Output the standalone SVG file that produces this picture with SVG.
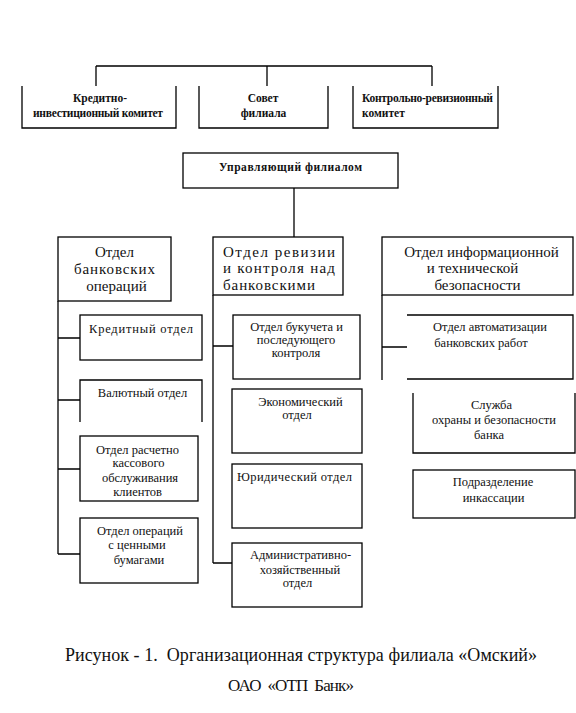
<svg xmlns="http://www.w3.org/2000/svg" width="576" height="713" viewBox="0 0 576 713" font-family="'Liberation Serif', 'DejaVu Serif', serif">
<style>
.b{fill:none;stroke:#000;stroke-width:1.3}
.c{fill:none;stroke:#000;stroke-width:1.3}
text{font-family:"Liberation Serif","DejaVu Serif",serif;fill:#111}
.t1{font-size:11.5px;font-weight:bold}
.t2{font-size:15px}
.t3{font-size:12.5px}
.cap{font-size:18px}
.cap2{font-size:17px}
.m{text-anchor:middle}
</style>
<rect width="576" height="713" fill="#fff"/>
<g id="connectors">
<path class="c" d="M96,66H432M96,66V86M267,66V86M432,66V86"/>
<path class="c" d="M294,188V237"/>
<path class="c" d="M58,301V554M58,338H80M58,400H80M58,469H80M58,554H80"/>
<path class="c" d="M213,295V563M213,346H233M213,563H232"/>
<path class="c" d="M382,295V380M382,347H407"/>
</g>
<g id="n-credit-committee">
<path class="b" d="M22,86V128H176V86"/>
<text class="t1 m" x="100" y="102">Кредитно-</text>
<text class="t1 m" x="98" y="117" textLength="130" lengthAdjust="spacing">инвестиционный комитет</text>
</g>
<g id="n-council">
<path class="b" d="M199,86V128H328V86"/>
<text class="t1 m" x="263" y="102">Совет</text>
<text class="t1 m" x="263.5" y="117">филиала</text>
</g>
<g id="n-audit-committee">
<path class="b" d="M353,86V128H498V86"/>
<text class="t1" x="362" y="102" textLength="131" lengthAdjust="spacing">Контрольно-ревизионный</text>
<text class="t1" x="362" y="117">комитет</text>
</g>
<g id="n-manager">
<rect class="b" x="183" y="153" width="215" height="35"/>
<text class="t1 m" x="290.5" y="171" textLength="143" lengthAdjust="spacing">Управляющий филиалом</text>
</g>
<g id="n-bank-ops">
<rect class="b" x="58" y="237" width="113" height="64"/>
<text class="t2 m" x="114.5" y="257">Отдел</text>
<text class="t2 m" x="114.5" y="274" textLength="81" lengthAdjust="spacing">банковских</text>
<text class="t2 m" x="116.5" y="291">операций</text>
</g>
<g id="n-revision">
<rect class="b" x="213" y="237" width="130" height="58"/>
<text class="t2" x="223" y="257" textLength="112" lengthAdjust="spacing">Отдел ревизии</text>
<text class="t2" x="223" y="273" textLength="112" lengthAdjust="spacing">и контроля над</text>
<text class="t2" x="223" y="290" textLength="92" lengthAdjust="spacing">банковскими</text>
</g>
<g id="n-infosec">
<rect class="b" x="382" y="237" width="191" height="58"/>
<text class="t2 m" x="481.5" y="257">Отдел информационной</text>
<text class="t2 m" x="472.5" y="273">и технической</text>
<text class="t2 m" x="477.5" y="290">безопасности</text>
</g>
<g id="n-credit">
<rect class="b" x="80" y="315" width="122" height="45"/>
<text class="t3 m" x="141" y="333" textLength="104" lengthAdjust="spacing">Кредитный отдел</text>
</g>
<g id="n-currency">
<path class="b" d="M80,422V380H202V422"/>
<text class="t3 m" x="142.5" y="397">Валютный отдел</text>
</g>
<g id="n-cash">
<rect class="b" x="80" y="436" width="118" height="65"/>
<text class="t3 m" x="137.5" y="454">Отдел расчетно</text>
<text class="t3 m" x="138.5" y="467">кассового</text>
<text class="t3 m" x="140" y="482">обслуживания</text>
<text class="t3 m" x="137.5" y="496">клиентов</text>
</g>
<g id="n-securities">
<rect class="b" x="80" y="518" width="118" height="65"/>
<text class="t3 m" x="140" y="535">Отдел операций</text>
<text class="t3 m" x="137" y="549">с ценными</text>
<text class="t3 m" x="139" y="564">бумагами</text>
</g>
<g id="n-accounting">
<rect class="b" x="233" y="315" width="127" height="64"/>
<text class="t3 m" x="296.5" y="331">Отдел букучета и</text>
<text class="t3 m" x="296" y="344">последующего</text>
<text class="t3 m" x="296" y="357">контроля</text>
</g>
<g id="n-economic">
<rect class="b" x="232" y="389" width="130" height="64"/>
<text class="t3 m" x="300.5" y="406">Экономический</text>
<text class="t3 m" x="297" y="419">отдел</text>
</g>
<g id="n-legal">
<rect class="b" x="232" y="464" width="130" height="64"/>
<text class="t3 m" x="294.5" y="481" textLength="115" lengthAdjust="spacing">Юридический отдел</text>
</g>
<g id="n-admin">
<rect class="b" x="232" y="543" width="130" height="64"/>
<text class="t3 m" x="300.5" y="559">Административно-</text>
<text class="t3 m" x="300" y="574">хозяйственный</text>
<text class="t3 m" x="297.5" y="587">отдел</text>
</g>
<g id="n-automation">
<path class="b" d="M407,315H573V379H407"/>
<text class="t3 m" x="490" y="331">Отдел автоматизации</text>
<text class="t3 m" x="481" y="347">банковских работ</text>
</g>
<g id="n-security">
<path class="b" d="M413,393V453H575V393"/>
<text class="t3 m" x="491.5" y="409">Служба</text>
<text class="t3 m" x="494" y="424">охраны и безопасности</text>
<text class="t3 m" x="489" y="439">банка</text>
</g>
<g id="n-collection">
<rect class="b" x="413" y="470" width="162" height="48"/>
<text class="t3 m" x="493" y="486">Подразделение</text>
<text class="t3 m" x="493.5" y="502">инкассации</text>
</g>
<g id="caption">
<text class="cap m" x="301" y="661" textLength="472" lengthAdjust="spacing" xml:space="preserve">Рисунок - 1.  Организационная структура филиала «Омский»</text>
<text class="cap2 m" x="291" y="691" textLength="126" lengthAdjust="spacing" xml:space="preserve">ОАО  «ОТП  Банк»</text>
</g>
</svg>
